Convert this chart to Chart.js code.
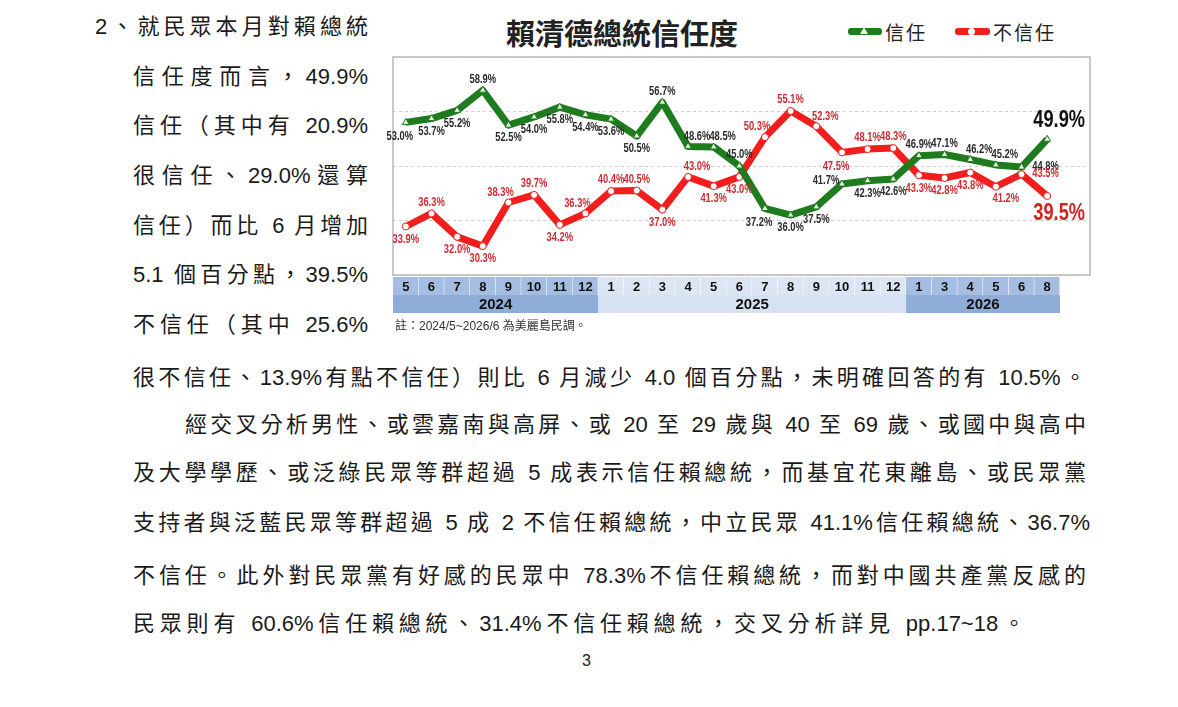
<!DOCTYPE html>
<html>
<head>
<meta charset="utf-8">
<script src="https://cdn.jsdelivr.net/npm/chart.js@4.4.1/dist/chart.umd.min.js"></script>
<style>
  body { margin: 0; background: #fff; width: 1178px; height: 707px; position: relative; overflow: hidden;
         font-family: "Liberation Sans", "Noto Sans CJK TC", sans-serif; color: #1a1a1a; }
  .ln { position: absolute; font-size: 22px; line-height: 30px; height: 30px; text-align: justify; text-align-last: justify; }
  .title { position: absolute; left: 506px; top: 12px; font: bold 29px "Noto Sans CJK TC", sans-serif; color: #222; line-height: 40px; }
  .leg { position: absolute; top: 19px; font: 19px "Noto Sans CJK TC", sans-serif; letter-spacing: 2px; line-height: 26px; color: #222; }
  .bar { position: absolute; top: 9px; height: 7px; border-radius: 3px; }
  .tri { position: absolute; left: 12px; top: -1px; width: 0; height: 0; border-left: 4px solid transparent; border-right: 4px solid transparent; border-bottom: 7px solid #e8f3e4; }
  .dot { position: absolute; left: 13px; top: 0px; width: 7px; height: 7px; border-radius: 50%; background: #fff; }
  .note { position: absolute; left: 395px; top: 316px; font: 12px "Liberation Sans", "Noto Sans CJK TC", sans-serif; color: #333; }
  #wrap { position: absolute; left: 380px; top: 40px; width: 720px; height: 300px; }
</style>
</head>
<body>
<div class="ln" style="left:95px;top:12px;width:273px">2、就民眾本月對賴總統</div>
<div class="ln" style="left:133px;top:62px;width:235px">信任度而言，49.9%</div>
<div class="ln" style="left:133px;top:111px;width:235px">信任（其中有 20.9%</div>
<div class="ln" style="left:133px;top:161px;width:235px">很信任、29.0%還算</div>
<div class="ln" style="left:133px;top:211px;width:235px">信任）而比 6 月增加</div>
<div class="ln" style="left:133px;top:260px;width:235px">5.1 個百分點，39.5%</div>
<div class="ln" style="left:133px;top:310px;width:235px">不信任（其中 25.6%</div>
<div class="ln" style="left:133px;top:363px;width:953px">很不信任、13.9%有點不信任）則比 6 月減少 4.0 個百分點，未明確回答的有 10.5%。</div>
<div class="ln" style="left:185px;top:410px;width:901px">經交叉分析男性、或雲嘉南與高屏、或 20 至 29 歲與 40 至 69 歲、或國中與高中</div>
<div class="ln" style="left:133px;top:458px;width:953px">及大學學歷、或泛綠民眾等群超過 5 成表示信任賴總統，而基宜花東離島、或民眾黨</div>
<div class="ln" style="left:133px;top:508px;width:957px">支持者與泛藍民眾等群超過 5 成 2 不信任賴總統，中立民眾 41.1%信任賴總統、36.7%</div>
<div class="ln" style="left:133px;top:561px;width:953px">不信任。此外對民眾黨有好感的民眾中 78.3%不信任賴總統，而對中國共產黨反感的</div>
<div class="ln" style="left:133px;top:609px;width:892px">民眾則有 60.6%信任賴總統、31.4%不信任賴總統，交叉分析詳見 pp.17~18。</div>
<div style="position:absolute;left:582px;top:652px;font-size:16px">3</div>

<div class="title">賴清德總統信任度</div>
<div class="leg" style="left:848px;"><span class="bar" style="left:0;width:34px;background:#1e7b1e"><span class="tri"></span></span><span style="margin-left:37px">信任</span></div>
<div class="leg" style="left:955px;"><span class="bar" style="left:0;width:35px;background:#f21d1d"><span class="dot"></span></span><span style="margin-left:38px">不信任</span></div>

<div id="wrap"><canvas id="trustChart"></canvas></div>
<div class="note">註：2024/5~2026/6 為美麗島民調。</div>

<script>
const months = [5, 6, 7, 8, 9, 10, 11, 12, 1, 2, 3, 4, 5, 6, 7, 8, 9, 10, 11, 12, 1, 3, 4, 5, 6, 8];
const years = ["2024", "2025", "2026"];
const yearCounts = [8, 12, 6];
const trust = [53.0, 53.7, 55.2, 58.9, 52.5, 54.0, 55.8, 54.4, 53.6, 50.5, 56.7, 48.6, 48.5, 45.0, 37.2, 36.0, 37.5, 41.7, 42.3, 42.6, 46.9, 47.1, 46.2, 45.2, 44.8, 49.9];
const distrust = [33.9, 36.3, 32.0, 30.3, 38.3, 39.7, 34.2, 36.3, 40.4, 40.5, 37.0, 43.0, 41.3, 43.0, 50.3, 55.1, 52.3, 47.5, 48.1, 48.3, 43.3, 42.8, 43.8, 41.2, 43.5, 39.5];

// where each value label sits relative to its point
const trustLabelPos = ["bl","b","b","a","b","b","b","b","b","b","a","ar","ar","a","bl","b","b","l","b","b","a","a","ar","ar","r","big"];
const distrustLabelPos = ["b","a","b","b","al","a","b","al","a","a","b","ar","b","b","al","a","ar","bl","a","a","b","b","b","br","r","big"];
const offsets = { a: [0, -11], b: [0, 13], ar: [9, -10], al: [-8, -10], br: [10, 12], bl: [-6, 14], r: [24, 0], l: [-16, -3] };

const yearColors = ["#a6bde2", "#dbe5f3", "#a6bde2"];
const yearRowColors = ["#8fabd8", "#d6e1f1", "#8fabd8"];

const valueLabels = {
  id: "valueLabels",
  afterDatasetsDraw(chart) {
    const ctx = chart.ctx;
    chart.data.datasets.forEach((ds, di) => {
      const meta = chart.getDatasetMeta(di);
      meta.data.forEach((pt, i) => {
        const pos = ds.labelPos[i];
        const txt = ds.data[i].y.toFixed(1) + "%";
        ctx.save();
        ctx.textAlign = "center";
        ctx.textBaseline = "middle";
        if (pos === "big") {
          ctx.translate(pt.x + 12, pt.y + ds.bigDy);
          ctx.scale(0.76, 1); // narrow look of the original labels
          ctx.font = 'bold 24px "Liberation Sans", sans-serif';
          ctx.fillStyle = ds.bigColor;
          ctx.fillText(txt, 0, 0);
        } else {
          const o = offsets[pos];
          ctx.translate(pt.x + o[0], pt.y + o[1]);
          ctx.scale(0.78, 1);
          ctx.font = 'bold 12px "Liberation Sans", sans-serif';
          ctx.fillStyle = ds.labelColor;
          ctx.fillText(txt, 0, 0);
        }
        ctx.restore();
      });
    });
  }
};

const frameAndBand = {
  id: "frameAndBand",
  beforeDatasetsDraw(chart) {
    const a = chart.chartArea, ctx = chart.ctx;
    ctx.save();
    ctx.strokeStyle = "#b8b8b8";
    ctx.lineWidth = 1.5;
    ctx.strokeRect(a.left, a.top, a.right - a.left, a.bottom - a.top);
    ctx.restore();
  },
  afterDraw(chart) {
    const x = chart.scales.x, a = chart.chartArea, ctx = chart.ctx;
    const top = a.bottom + 2, rowH = 18;
    ctx.save();
    let idx = 0;
    years.forEach((yr, yi) => {
      const first = idx, last = idx + yearCounts[yi] - 1;
      for (let i = first; i <= last; i++) {
        const x0 = x.getPixelForValue(i - 0.5), x1 = x.getPixelForValue(i + 0.5);
        ctx.fillStyle = yearColors[yi];
        ctx.fillRect(x0, top, x1 - x0, rowH);
        ctx.strokeStyle = "#ffffff";
        ctx.lineWidth = 1;
        ctx.beginPath();
        ctx.moveTo(x1, top);
        ctx.lineTo(x1, top + rowH);
        ctx.stroke();
        ctx.fillStyle = "#111";
        ctx.font = 'bold 13px "Liberation Sans", sans-serif';
        ctx.textAlign = "center";
        ctx.textBaseline = "middle";
        ctx.fillText(String(months[i]), (x0 + x1) / 2, top + rowH / 2 + 1);
      }
      const y0 = x.getPixelForValue(first - 0.5), y1 = x.getPixelForValue(last + 0.5);
      ctx.fillStyle = yearRowColors[yi];
      ctx.fillRect(y0, top + rowH, y1 - y0, rowH);
      ctx.fillStyle = "#111";
      ctx.font = 'bold 15px "Liberation Sans", sans-serif';
      ctx.fillText(yr, (y0 + y1) / 2, top + rowH * 1.5 + 1);
      idx = last + 1;
    });
    ctx.restore();
  }
};

const config = {
  type: "line",
  data: {
    datasets: [
      {
        label: "信任",
        data: trust.map((v, i) => ({ x: i, y: v })),
        borderColor: "#1e7b1e",
        borderWidth: 7,
        borderJoinStyle: "round",
        pointStyle: "triangle",
        pointRadius: 4,
        pointBackgroundColor: "#e8f3e4",
        pointBorderColor: "#1e7b1e",
        pointBorderWidth: 1,
        labelPos: trustLabelPos,
        labelColor: "#2a2a2a",
        bigColor: "#111",
        bigDy: -19,
        clip: false
      },
      {
        label: "不信任",
        data: distrust.map((v, i) => ({ x: i, y: v })),
        borderColor: "#f21d1d",
        borderWidth: 7,
        borderJoinStyle: "round",
        pointStyle: "circle",
        pointRadius: 3.5,
        pointBackgroundColor: "#ffffff",
        pointBorderColor: "#f21d1d",
        pointBorderWidth: 1,
        labelPos: distrustLabelPos,
        labelColor: "#cc2d33",
        bigColor: "#d42222",
        bigDy: 17,
        clip: false
      }
    ]
  },
  options: {
    responsive: true,
    maintainAspectRatio: false,
    animation: false,
    events: [],
    layout: { padding: { left: 13, right: 10, top: 17, bottom: 65 } },
    scales: {
      x: {
        type: "linear",
        display: false,
        min: -0.5,
        max: 26.67 //extra room on the right for the big labels
      },
      y: {
        min: 25,
        max: 65,
        ticks: { display: false, stepSize: 10 },
        grid: { drawTicks: false, color: "#cfcfcf", lineWidth: 1 },
        border: { display: false, dash: [3, 3] }
      }
    },
    plugins: {
      legend: { display: false },
      tooltip: { enabled: false }
    }
  },
  plugins: [frameAndBand, valueLabels]
};

new Chart(document.getElementById("trustChart"), config);
</script>
</body>
</html>
